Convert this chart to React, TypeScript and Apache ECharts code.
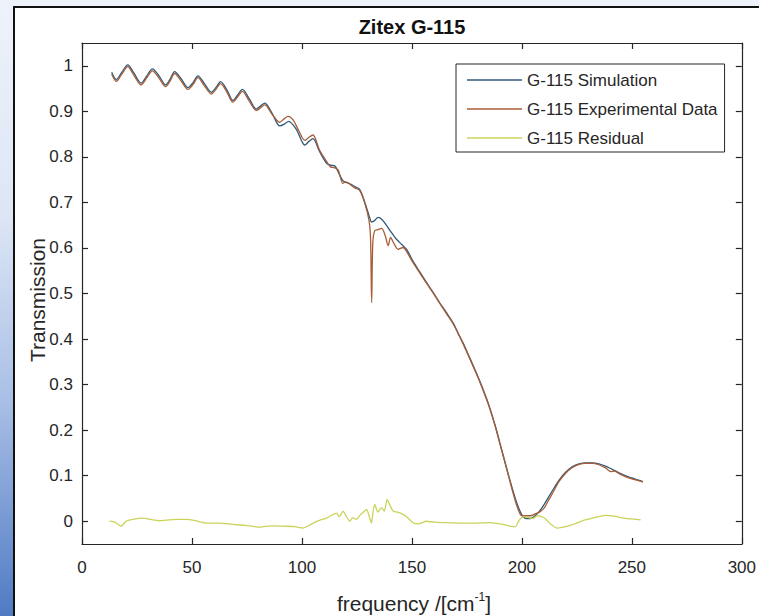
import React, { useEffect, useRef } from 'react';
import * as echarts from 'echarts';

const FONT = '"Liberation Sans", Arial, Helvetica, sans-serif';

const titleText = 'Zitex G-115';
const xAxisTitle = 'frequency /[cm';
const xAxisTitleSup = '-1';
const yAxisTitle = 'Transmission';
const seriesNames = ['G-115 Simulation', 'G-115 Experimental Data', 'G-115 Residual'];
const seriesColors = ['#30597a', '#a85d36', '#cbd35a'];

const xTickValues = [0, 50, 100, 150, 200, 250, 300];
const yTickValues = [0, 0.1, 0.2, 0.3, 0.4, 0.5, 0.6, 0.7, 0.8, 0.9, 1];

// [frequency, transmission]
const simulation: [number, number][] = [
  [13.5, 0.986], [15.6, 0.970], [18, 0.985], [20.8, 1.002], [23.5, 0.985], [26.9, 0.962],
  [29.5, 0.978], [32, 0.993], [35, 0.978], [38, 0.958], [40, 0.970], [42.1, 0.987],
  [45, 0.972], [48.2, 0.952], [50.5, 0.963], [52.7, 0.978], [55.5, 0.962], [58.8, 0.942],
  [61, 0.953], [63, 0.965], [66, 0.946], [68.6, 0.924], [70.8, 0.936], [72.9, 0.948],
  [76, 0.928], [79.3, 0.905], [81.3, 0.912], [83.1, 0.918], [86.5, 0.895], [89.9, 0.868],
  [92, 0.872], [94, 0.878], [97.5, 0.860], [101.3, 0.826], [103.2, 0.834], [105, 0.840],
  [108, 0.812], [111.2, 0.786], [113, 0.782], [115, 0.780], [118.6, 0.748], [121.8, 0.741],
  [124, 0.735], [126.3, 0.728], [128.6, 0.700], [130.9, 0.665], [131.6, 0.657], [133, 0.660],
  [134.6, 0.667], [136.5, 0.662], [138.5, 0.649], [141, 0.632], [143, 0.619], [145.5, 0.607],
  [147.6, 0.597], [150.6, 0.570], [153.5, 0.548], [156.7, 0.524], [159.7, 0.502], [162.7, 0.479],
  [165.7, 0.458], [168.8, 0.435], [171, 0.413], [173.3, 0.391], [176, 0.362], [178, 0.340],
  [180, 0.318], [182, 0.294], [185, 0.255], [188, 0.208], [190, 0.172], [192, 0.136],
  [194, 0.100], [196, 0.066], [198, 0.036], [200, 0.014], [202, 0.006], [204, 0.006],
  [206, 0.012], [208, 0.022], [210, 0.036], [212, 0.052], [214, 0.068], [217, 0.091],
  [220, 0.108], [223, 0.120], [226, 0.126], [229, 0.128], [232, 0.128], [235, 0.126],
  [238, 0.121], [241, 0.114], [244, 0.107], [247, 0.100], [250, 0.095], [253, 0.090],
  [255, 0.087],
];

const experimental: [number, number][] = [
  [13.5, 0.982], [15.6, 0.966], [18, 0.981], [20.8, 0.998], [23.5, 0.980], [26.9, 0.958],
  [29.5, 0.974], [32, 0.989], [35, 0.973], [38, 0.954], [40, 0.966], [42.1, 0.983],
  [45, 0.967], [48.2, 0.948], [50.5, 0.959], [52.7, 0.974], [55.5, 0.957], [58.8, 0.938],
  [61, 0.949], [63, 0.961], [66, 0.941], [68.6, 0.920], [70.8, 0.932], [72.9, 0.944],
  [76, 0.923], [79.3, 0.902], [81.3, 0.908], [83.1, 0.914], [86.5, 0.893], [89.9, 0.876],
  [92, 0.884], [93.7, 0.889], [96, 0.881], [98.5, 0.858], [101.3, 0.836], [103.2, 0.843],
  [105, 0.848], [108, 0.815], [111.2, 0.790], [113, 0.778], [115, 0.776], [116.5, 0.771],
  [118.6, 0.742], [120, 0.745], [121.8, 0.740], [124, 0.732], [126.3, 0.726], [128.6, 0.698],
  [130.5, 0.660], [131.2, 0.620], [131.7, 0.480], [132.2, 0.610], [133.1, 0.638], [134.5, 0.640],
  [136.2, 0.643], [137.8, 0.628], [139.2, 0.605], [140.3, 0.623], [141.8, 0.610], [143.7, 0.597],
  [146, 0.601], [147.6, 0.592], [150.6, 0.567], [153.5, 0.546], [156.7, 0.522], [159.7, 0.501],
  [162.7, 0.478], [165.7, 0.456], [168.8, 0.433], [171, 0.412], [173.3, 0.389], [176, 0.360],
  [178, 0.338], [180, 0.316], [182, 0.292], [185, 0.253], [188, 0.206], [190, 0.170],
  [192, 0.134], [194, 0.098], [196, 0.062], [198, 0.030], [200, 0.012], [202, 0.012],
  [204, 0.012], [206, 0.016], [208, 0.020], [210, 0.028], [212, 0.045], [214, 0.062],
  [217, 0.088], [220, 0.106], [223, 0.118], [226, 0.125], [229, 0.127], [232, 0.127],
  [235, 0.124], [238, 0.117], [240.5, 0.109], [242, 0.110], [244, 0.105], [247, 0.098],
  [250, 0.093], [253, 0.089], [255, 0.086],
];

const residual: [number, number][] = [
  [12.5, 0.0], [15, -0.002], [17.8, -0.011], [20, 0.0], [23, 0.004], [27.7, 0.007],
  [31, 0.004], [35.3, 0.001], [40, 0.003], [44, 0.004], [47.4, 0.004], [51, 0.002],
  [56.5, -0.004], [62, -0.004], [68.6, -0.007], [74, -0.009], [80.8, -0.013], [86, -0.010],
  [92.9, -0.011], [97, -0.012], [100.5, -0.015], [103, -0.010], [105.1, -0.004], [108, 0.002],
  [111.2, 0.007], [113, 0.012], [115.7, 0.018], [117, 0.010], [118.7, 0.022], [120, 0.012],
  [121.8, 0.0], [123, 0.008], [124.8, 0.004], [126.5, 0.014], [128, 0.020], [129.4, 0.026],
  [130.5, 0.012], [131.6, -0.004], [132.3, 0.020], [133.1, 0.037], [134.5, 0.020], [136.2, 0.030],
  [137.5, 0.022], [138.7, 0.048], [140, 0.035], [141.5, 0.022], [143.5, 0.020], [146, 0.015],
  [148, 0.008], [150.6, -0.004], [153, -0.006], [156.6, 0.0], [160, -0.002], [165, -0.003],
  [171.8, -0.004], [178, -0.004], [185, -0.003], [190, -0.006], [194, -0.010], [197, -0.012],
  [199, 0.004], [201, 0.010], [203, 0.008], [205, 0.006], [207, 0.012], [209, 0.010],
  [211, 0.004], [213, -0.006], [216, -0.015], [220, -0.012], [224, -0.006], [228, 0.002],
  [233, 0.008], [238, 0.013], [242, 0.011], [246, 0.007], [250, 0.005], [254, 0.003],
];

const AXIS_COLOR = '#262626';

function fmtTick(v: number): string {
  const r = Math.round(v * 10) / 10;
  if (r === 0) return '0';
  if (r === 1) return '1';
  return r.toFixed(1);
}

export default function App() {
  const ref = useRef<HTMLDivElement>(null);

  useEffect(() => {
    if (!ref.current) return;
    const chart = echarts.init(ref.current, undefined, { renderer: 'svg' });

    const axisLine = { show: true, onZero: false, lineStyle: { color: AXIS_COLOR, width: 1.2 } };
    const axisTick = { show: true, inside: true, length: 6, lineStyle: { color: AXIS_COLOR, width: 1.2 } };
    const labelStyle = { fontSize: 17, color: AXIS_COLOR, fontFamily: FONT };

    const option: any = {
      animation: false,
      textStyle: { fontFamily: FONT },
      grid: { left: 82, top: 43, width: 660, height: 501, containLabel: false },
      legend: {
        orient: 'vertical',
        left: 456,
        top: 64,
        data: seriesNames,
        icon: 'rect',
        itemWidth: 55,
        itemHeight: 1.6,
        itemGap: 9,
        padding: [6, 7, 4, 11],
        backgroundColor: '#ffffff',
        borderColor: AXIS_COLOR,
        borderWidth: 1,
        borderRadius: 0,
        textStyle: { fontSize: 17, lineHeight: 20, color: AXIS_COLOR, fontFamily: FONT },
      },
      xAxis: [
        {
          type: 'value', min: 0, max: 300, interval: 50, position: 'bottom',
          axisLine, axisTick,
          axisLabel: { ...labelStyle, margin: 15, showMinLabel: true, showMaxLabel: true },
          splitLine: { show: false },
        },
        {
          type: 'value', min: 0, max: 300, interval: 50, position: 'top',
          axisLine, axisTick,
          axisLabel: { show: false },
          splitLine: { show: false },
        },
      ],
      yAxis: [
        {
          type: 'value', min: -0.05, max: 1.05, position: 'left',
          axisLine,
          axisTick: { ...axisTick, customValues: yTickValues },
          axisLabel: { ...labelStyle, margin: 9, customValues: yTickValues, formatter: (v: number) => fmtTick(v) },
          splitLine: { show: false },
        },
        {
          type: 'value', min: -0.05, max: 1.05, position: 'right',
          axisLine,
          axisTick: { ...axisTick, customValues: yTickValues },
          axisLabel: { show: false, customValues: yTickValues },
          splitLine: { show: false },
        },
      ],
      graphic: [
        {
          type: 'text', x: 412, y: 27,
          style: {
            text: titleText, fill: '#111', fontSize: 20, fontWeight: 'bold', fontFamily: FONT,
            align: 'center', verticalAlign: 'middle',
          },
        },
        {
          type: 'text', x: 414, y: 603,
          style: {
            text: `{a|${xAxisTitle}}{s|${xAxisTitleSup}}{a|]}`,
            align: 'center', verticalAlign: 'middle',
            rich: {
              a: { fontSize: 21, fontFamily: FONT, fill: AXIS_COLOR, lineHeight: 25 },
              s: { fontSize: 12, fontFamily: FONT, fill: AXIS_COLOR, lineHeight: 13, verticalAlign: 'top' },
            },
          },
        },
        {
          type: 'text', x: 37, y: 300, rotation: Math.PI / 2,
          style: {
            text: yAxisTitle, fill: AXIS_COLOR, fontSize: 21, fontFamily: FONT,
            align: 'center', verticalAlign: 'middle',
          },
        },
      ],
      series: [
        {
          name: seriesNames[0], type: 'line', data: simulation, xAxisIndex: 0, yAxisIndex: 0,
          showSymbol: false, symbol: 'none', smooth: 0.3,
          lineStyle: { color: seriesColors[0], width: 1.3 }, itemStyle: { color: seriesColors[0] },
        },
        {
          name: seriesNames[1], type: 'line', data: experimental, xAxisIndex: 0, yAxisIndex: 0,
          showSymbol: false, symbol: 'none', smooth: 0.3,
          lineStyle: { color: seriesColors[1], width: 1.3 }, itemStyle: { color: seriesColors[1] },
        },
        {
          name: seriesNames[2], type: 'line', data: residual, xAxisIndex: 0, yAxisIndex: 0,
          showSymbol: false, symbol: 'none', smooth: 0.2,
          lineStyle: { color: seriesColors[2], width: 1.3 }, itemStyle: { color: seriesColors[2] },
        },
      ],
    };

    chart.setOption(option);
    return () => chart.dispose();
  }, []);

  return (
    <div
      style={{
        position: 'fixed', left: 0, top: 0, width: 759, height: 616, overflow: 'hidden',
        background: 'linear-gradient(to bottom, #eef2fb 0%, #dde6f5 35%, #a9bfe6 65%, #4f7bc4 100%)',
      }}
    >
      <div
        style={{
          position: 'absolute', left: 13, top: 6, width: 746, height: 610, boxSizing: 'border-box',
          background: '#ffffff', borderLeft: '2px solid #111', borderTop: '2px solid #111',
        }}
      />
      <div ref={ref} style={{ position: 'absolute', left: 0, top: 0, width: 759, height: 616 }} />
    </div>
  );
}
